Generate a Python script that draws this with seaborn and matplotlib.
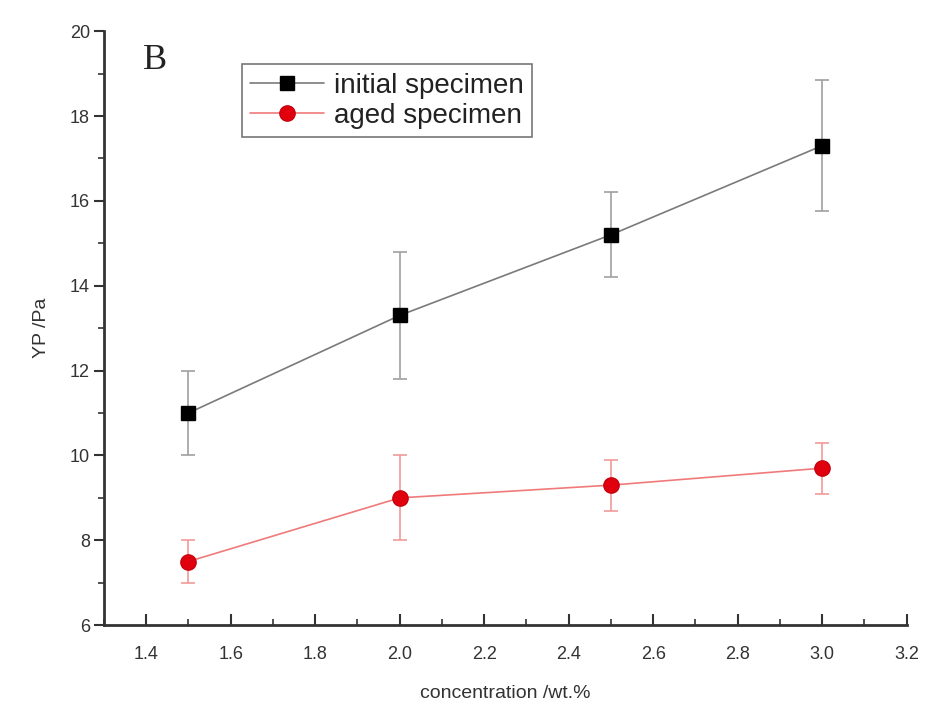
import matplotlib
matplotlib.use("Agg")
import matplotlib.pyplot as plt
from matplotlib.ticker import MultipleLocator
from matplotlib.lines import Line2D
import seaborn as sns
import pandas as pd

# Yield point versus concentration
concentration = [1.5, 2.0, 2.5, 3.0]
initial_yp = [11.0, 13.3, 15.2, 17.3]
initial_err = [1.0, 1.5, 1.0, 1.55]
aged_yp = [7.5, 9.0, 9.3, 9.7]
aged_err = [0.5, 1.0, 0.6, 0.6]
series_names = ["initial specimen", "aged specimen"]

sns.set_theme(style="ticks")
plt.rcParams["font.family"] = ["Liberation Sans", "DejaVu Sans"]

df = pd.DataFrame({
    "concentration": concentration * 2,
    "YP": initial_yp + aged_yp,
    "series": [series_names[0]] * 4 + [series_names[1]] * 4,
})

fig = plt.figure(figsize=(9.28, 7.08), dpi=100)
ax = fig.add_axes([0.112, 0.117, 0.865, 0.839])

line_colors = {series_names[0]: "#7a7a7a", series_names[1]: "#f07a7a"}
sns.lineplot(data=df, x="concentration", y="YP", hue="series",
             palette=line_colors, linewidth=1.2, legend=False, ax=ax,
             zorder=2)

ax.errorbar(concentration, initial_yp, yerr=initial_err, fmt="none",
            ecolor="#a0a0a0", elinewidth=1.2, capsize=5, capthick=1.2,
            zorder=1)
ax.errorbar(concentration, aged_yp, yerr=aged_err, fmt="none",
            ecolor="#f39a9a", elinewidth=1.2, capsize=5, capthick=1.2,
            zorder=1)
ax.plot(concentration, initial_yp, linestyle="none", marker="s",
        markersize=10, color="black", zorder=3)
ax.plot(concentration, aged_yp, linestyle="none", marker="o",
        markersize=11, color="#e0000e", markeredgecolor="#c8000c", zorder=3)

ax.set_xlim(1.3, 3.2)
ax.set_ylim(6, 20)
ax.xaxis.set_major_locator(MultipleLocator(0.2))
ax.xaxis.set_minor_locator(MultipleLocator(0.1))
ax.yaxis.set_major_locator(MultipleLocator(2))
ax.yaxis.set_minor_locator(MultipleLocator(1))
ax.set_xticks([1.4, 1.6, 1.8, 2.0, 2.2, 2.4, 2.6, 2.8, 3.0, 3.2])
ax.set_xticklabels(["1.4", "1.6", "1.8", "2.0", "2.2", "2.4", "2.6",
                    "2.8", "3.0", "3.2"])

sns.despine(ax=ax, top=True, right=True)
for sp in ("left", "bottom"):
    ax.spines[sp].set_linewidth(2.0)
    ax.spines[sp].set_color("#333333")

ax.tick_params(axis="x", which="major", direction="in", length=8, width=1.5,
               labelsize=13, pad=15, colors="#333333")
ax.tick_params(axis="x", which="minor", direction="in", length=4, width=1.2,
               colors="#333333")
ax.tick_params(axis="y", which="major", direction="out", length=7, width=1.5,
               labelsize=13, pad=3, colors="#333333")
ax.tick_params(axis="y", which="minor", direction="out", length=4, width=1.2,
               colors="#333333")

ax.set_xlabel("concentration /wt.%", fontsize=14, labelpad=16, color="#333333")
ax.set_ylabel("YP /Pa", fontsize=14, labelpad=14, color="#333333")

ax.text(0.048, 0.978, "B", transform=ax.transAxes, fontsize=26,
        family="Liberation Serif", color="#222222",
        va="top", ha="left")

handles = [
    Line2D([], [], color="#7a7a7a", linewidth=1.2, marker="s", markersize=10,
           markerfacecolor="black", markeredgecolor="black"),
    Line2D([], [], color="#f07a7a", linewidth=1.2, marker="o", markersize=11,
           markerfacecolor="#e0000e", markeredgecolor="#c8000c"),
]
leg = ax.legend(handles, series_names, loc="upper left",
                bbox_to_anchor=(0.172, 0.944), borderaxespad=0, fontsize=20,
                frameon=True, fancybox=False, handlelength=2.65,
                handletextpad=0.35, borderpad=0.3, labelspacing=0.15)
leg.get_frame().set_edgecolor("#555555")
leg.get_frame().set_linewidth(1.2)
for t in leg.get_texts():
    t.set_color("#222222")

fig.savefig("out.png", dpi=100)
